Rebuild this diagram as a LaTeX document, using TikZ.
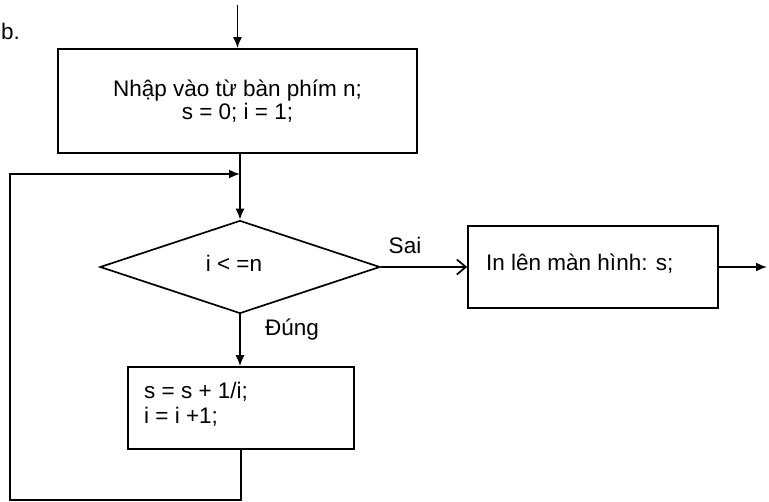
\documentclass[tikz,border=0pt]{standalone}
\usepackage{fontspec}
\setmainfont{Liberation Sans}
\usetikzlibrary{shapes.geometric,arrows.meta}
\begin{document}
\begin{tikzpicture}[x=1pt,y=-1pt,
  every node/.style={font=\fontsize{22.5}{23}\selectfont},
  boxstyle/.style={draw,line width=1.7pt,rectangle,inner sep=0pt},
  conn/.style={line width=1.7pt},
  arr/.style={conn,-{Latex[length=11pt,width=9pt]}},
  openarr/.style={conn,-{Straight Barb[length=9pt,width=15pt,line width=1.7pt]}},
  lbl/.style={inner sep=0pt}]
\useasboundingbox (0,0) rectangle (769,502);
\fill[white] (0,0) rectangle (769,502);
\node[lbl,anchor=base west] (blabel) at (1,40) {b.};
\node[boxstyle,minimum width=359pt,minimum height=104pt,align=center] (box1) at (237.5,101) {Nhập vào từ bàn phím n;\\s = 0; i = 1;};
\node[draw,line width=1.7pt,diamond,inner sep=0pt,aspect=3.01,minimum width=280pt,minimum height=93pt] (dia) at (240,267) {};
\node[lbl] (cond) at (234,263) {i < =n};
\node[boxstyle,minimum width=250pt,minimum height=82pt] (box2) at (593,267) {};
\node[lbl,anchor=west] (t2) at (486,264) {In lên màn hình: s;};
\node[boxstyle,minimum width=226pt,minimum height=82pt] (box3) at (241,408) {};
\node[lbl,anchor=north west,align=left,font=\fontsize{22.5}{25}\selectfont] (t3) at (144,382) {s = s + 1/i;\\i = i +1;};
\node[lbl] (sai) at (405,245) {Sai};
\node[lbl] (dung) at (292,330) {Đúng};
\coordinate (top) at (237.5,5);
\coordinate (join) at (240,174);
\coordinate (loopbl) at (10,500);
\coordinate (looptl) at (10,174);
\coordinate (outend) at (767,267);
\draw[arr] (top) -- (box1.north);
\draw[arr] (box1.south -| dia.north) -- (dia.north);
\draw[arr] (box3.south) |- (loopbl) -- (looptl) -- (join);
\draw[arr] (dia.south) -- (dia.south |- box3.north);
\draw[openarr] (dia.east) -- (box2.west);
\draw[arr] (box2.east) -- (outend);
\end{tikzpicture}
\end{document}
